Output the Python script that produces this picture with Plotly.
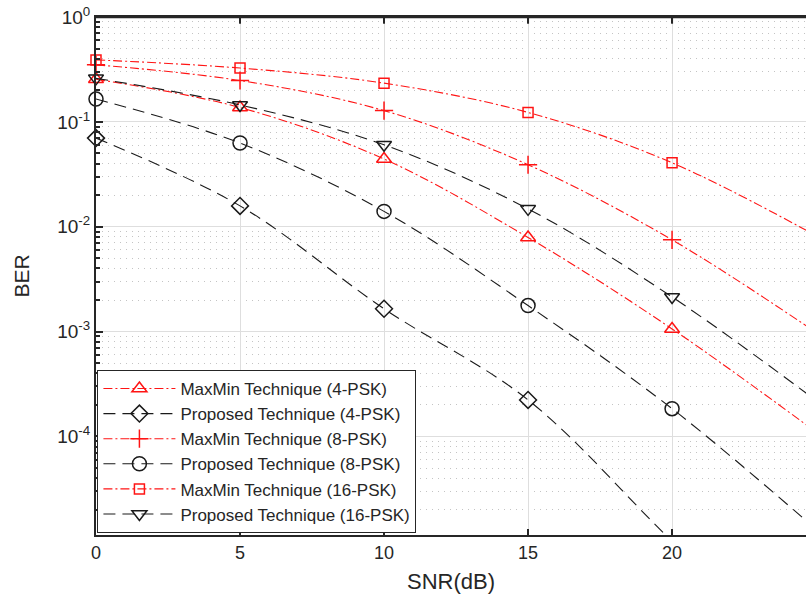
import plotly.graph_objects as go

# ---- data ----
snr = [0, 5, 10, 15, 20, 25]
ber_maxmin_4psk = [0.255, 0.137, 0.0442, 7.9e-3, 1.06e-3, 1.1e-4]
ber_proposed_4psk = [0.070, 0.0158, 1.65e-3, 2.23e-4, 1.0e-5, 5e-7]
ber_maxmin_8psk = [0.35, 0.248, 0.128, 0.039, 7.5e-3, 9.8e-4]
ber_proposed_8psk = [0.165, 0.0628, 0.014, 1.77e-3, 1.84e-4, 1.3e-5]
ber_maxmin_16psk = [0.39, 0.326, 0.234, 0.123, 0.0407, 8.2e-3]
ber_proposed_16psk = [0.26, 0.145, 0.0604, 0.0148, 2.14e-3, 2.2e-4]

names = [
    "MaxMin Technique (4-PSK)",
    "Proposed Technique (4-PSK)",
    "MaxMin Technique (8-PSK)",
    "Proposed Technique (8-PSK)",
    "MaxMin Technique (16-PSK)",
    "Proposed Technique (16-PSK)",
]
series = [ber_maxmin_4psk, ber_proposed_4psk, ber_maxmin_8psk,
          ber_proposed_8psk, ber_maxmin_16psk, ber_proposed_16psk]
marker_snr_max = 20

x_ticks = [0, 5, 10, 15, 20]
y_ticks = [1, 1e-1, 1e-2, 1e-3, 1e-4]
y_ticktext = ["10<sup>0</sup>", "10<sup>-1</sup>", "10<sup>-2</sup>",
              "10<sup>-3</sup>", "10<sup>-4</sup>"]

X_RANGE = [0, 24.65]
Y_RANGE = [-4.94, 0]

RED = "#ff1414"
BLK = "#1a1a1a"
AXC = "#262626"
DASHDOT = "9px,3px,2px,3px"
DASHED = "12px,7px"
styles = [
    dict(color=RED, dash=DASHDOT, symbol="triangle-up-open", size=13),
    dict(color=BLK, dash=DASHED, symbol="diamond-open", size=13),
    dict(color=RED, dash=DASHDOT, symbol="cross-thin-open", size=13),
    dict(color=BLK, dash=DASHED, symbol="circle-open", size=14),
    dict(color=RED, dash=DASHDOT, symbol="square-open", size=10),
    dict(color=BLK, dash=DASHED, symbol="triangle-down-open", size=13),
]

fig = go.Figure()
ymin = 10 ** Y_RANGE[0]
for name, ys, st in zip(names, series, styles):
    # curve
    fig.add_trace(go.Scatter(
        x=snr, y=ys, mode="lines", line=dict(color=st["color"], dash=st["dash"], width=1.1, shape="spline"),
        showlegend=False, legendgroup=name, hoverinfo="skip"))
    # markers (not clipped at the axis)
    mx = [x for x, y in zip(snr, ys) if x <= marker_snr_max and y >= ymin]
    my = [y for x, y in zip(snr, ys) if x <= marker_snr_max and y >= ymin]
    fig.add_trace(go.Scatter(
        x=mx, y=my, mode="markers", cliponaxis=False,
        marker=dict(symbol=st["symbol"], size=st["size"], color=st["color"],
                    line=dict(color=st["color"], width=1.5)),
        showlegend=False, legendgroup=name))
    # legend entry
    fig.add_trace(go.Scatter(
        x=[None], y=[None], mode="lines+markers", name=name, legendgroup=name,
        line=dict(color=st["color"], dash=st["dash"], width=1.1),
        marker=dict(symbol=st["symbol"], size=st["size"], color=st["color"],
                    line=dict(color=st["color"], width=1.5))))

# top box edge with inward ticks (matlab box on)
shapes = [dict(type="line", xref="paper", yref="paper", x0=0, x1=1, y0=1, y1=1,
               line=dict(color=AXC, width=2.5), layer="above")]
for xt in x_ticks[1:]:
    shapes.append(dict(type="line", xref="x", yref="paper", x0=xt, x1=xt,
                       y0=1, y1=0.987, line=dict(color=AXC, width=2), layer="above"))

FONT = "Liberation Sans, Arial, Helvetica, sans-serif"
fig.update_layout(
    width=806, height=600,
    margin=dict(l=96, r=0, t=17, b=65, autoexpand=False),
    paper_bgcolor="white", plot_bgcolor="white",
    font=dict(family=FONT, size=18, color=AXC),
    showlegend=True,
    shapes=shapes,
    legend=dict(x=0.002, y=0.004, xanchor="left", yanchor="bottom",
                bgcolor="white", bordercolor=AXC, borderwidth=1,
                font=dict(size=17, color=AXC), itemwidth=72,
                tracegroupgap=0),
)
fig.update_xaxes(
    range=X_RANGE, tickvals=x_ticks, ticks="inside", ticklen=6, tickwidth=2,
    tickcolor=AXC, showline=True, linecolor=AXC, linewidth=2,
    mirror="ticks", showgrid=True, gridcolor="#dedede", gridwidth=1,
    zeroline=False, tickfont=dict(size=18), automargin=False,
    title=dict(text="SNR(dB)", font=dict(size=22), standoff=12),
)
minor_vals = [k * 10 ** e for e in range(-5, 0) for k in range(2, 10)]
fig.update_yaxes(
    type="log", range=Y_RANGE, tickvals=y_ticks, ticktext=y_ticktext,
    ticks="inside", ticklen=7, tickwidth=2, tickcolor=AXC,
    showline=True, linecolor=AXC, linewidth=2, mirror=False,
    showgrid=True, gridcolor="#dedede", gridwidth=1, zeroline=False,
    tickfont=dict(size=19), automargin=False,
    minor=dict(tickvals=minor_vals, ticks="inside", ticklen=4, tickwidth=1.5,
               tickcolor=AXC, showgrid=True, gridcolor="#c4c4c4",
               griddash="1px,5px", gridwidth=1),
    title=dict(text="BER", font=dict(size=21), standoff=22),
)

fig.write_html("out.html", config={"displayModeBar": False},
               post_script="document.body.style.margin='0px';")
